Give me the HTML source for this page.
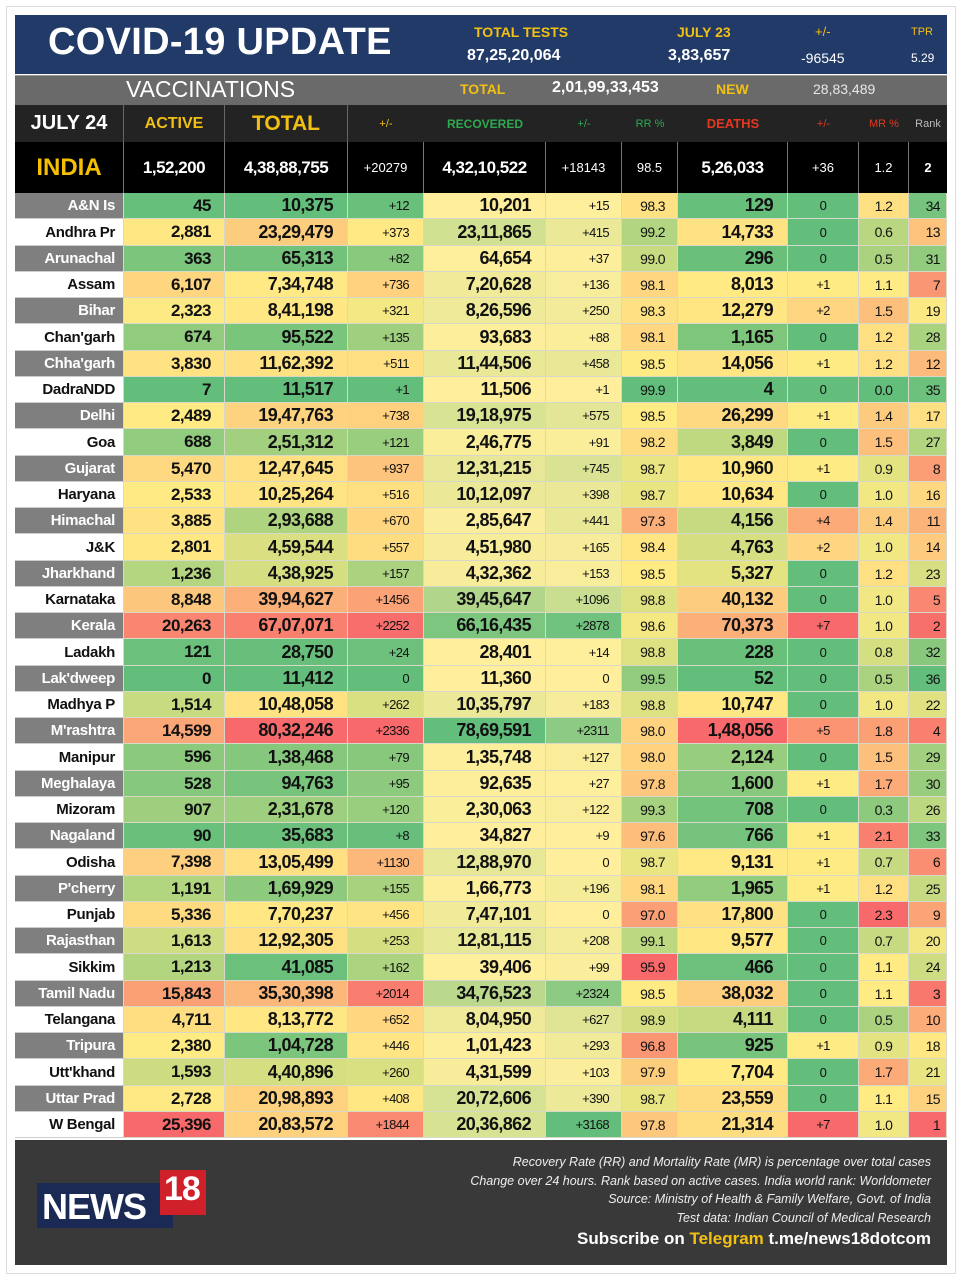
<!DOCTYPE html>
<html><head><meta charset="utf-8">
<style>
*{margin:0;padding:0;box-sizing:border-box}
body{width:962px;height:1280px;background:#fff;font-family:"Liberation Sans",Arial,sans-serif;position:relative;overflow:hidden}
.frame{position:absolute;left:6px;top:6px;width:950px;height:1268px;border:1px solid #ddd}
.a{position:absolute;white-space:nowrap}
.c{position:absolute;display:flex;align-items:center;justify-content:flex-end;border-right:1px solid #d8d8c8;border-bottom:1px solid #d8d8c8;letter-spacing:-0.6px;color:#111}
.b{font-weight:bold;font-size:18px}
.s{font-size:13px;font-weight:normal}
.m{font-size:14px;font-weight:normal}
.h{position:absolute;display:flex;align-items:center;justify-content:center;font-weight:bold;border-right:1px solid #555}
</style></head><body>
<div class="frame"></div>
<div class="a" style="left:15px;top:15px;width:932px;height:59px;background:#213a68"></div>
<div class="a" style="left:48px;top:21px;font-size:38px;font-weight:bold;color:#fff;letter-spacing:0.3px">COVID-19 UPDATE</div>
<div class="a" style="left:474px;top:24px;font-size:14px;font-weight:bold;color:#f2c012">TOTAL TESTS</div>
<div class="a" style="left:467px;top:47px;font-size:16px;font-weight:bold;color:#fff">87,25,20,064</div>
<div class="a" style="left:677px;top:24px;font-size:14px;font-weight:bold;color:#f2c012">JULY 23</div>
<div class="a" style="left:668px;top:47px;font-size:16px;font-weight:bold;color:#fff">3,83,657</div>
<div class="a" style="left:815px;top:24px;font-size:13px;color:#f2c012">+/-</div>
<div class="a" style="left:801px;top:50px;font-size:14px;color:#fff">-96545</div>
<div class="a" style="left:911px;top:26px;font-size:11px;color:#f2c012">TPR</div>
<div class="a" style="left:911px;top:51px;font-size:12px;color:#fff">5.29</div>
<div class="a" style="left:15px;top:75px;width:932px;height:30px;background:#6a6a6a;border-top:1px solid #999"></div>
<div class="a" style="left:126px;top:76px;font-size:23px;color:#fff">VACCINATIONS</div>
<div class="a" style="left:460px;top:81px;font-size:14px;font-weight:bold;color:#f2c012">TOTAL</div>
<div class="a" style="left:552px;top:79px;font-size:16px;font-weight:bold;color:#fff">2,01,99,33,453</div>
<div class="a" style="left:716px;top:81px;font-size:14px;font-weight:bold;color:#f2c012">NEW</div>
<div class="a" style="left:813px;top:81px;font-size:14px;color:#e8e8e8">28,83,489</div>
<div class="a" style="left:15px;top:105px;width:932px;height:37px;background:#232323"></div>
<div id="hdr"></div>
<div id="tbl"></div>
<div class="a" style="left:15px;top:1140px;width:932px;height:125px;background:#3a3939"></div>
<div class="a" style="left:37px;top:1183px;width:136px;height:45px;background:#1b2a55"></div>
<div class="a" style="left:160px;top:1170px;width:46px;height:45px;background:#d0202a"></div>
<div class="a" style="left:42px;top:1186px;font-size:36px;font-weight:bold;color:#fff;letter-spacing:-1px">NEWS</div>
<div class="a" style="left:164px;top:1170px;font-size:34px;font-weight:bold;color:#fff;letter-spacing:-1px">18</div>
<div class="a" style="right:31px;top:1153px;font-size:12.5px;font-style:italic;color:#eee;text-align:right;line-height:18.7px">Recovery Rate (RR) and Mortality Rate (MR) is percentage over total cases<br>Change over 24 hours. Rank based on active cases. India world rank: Worldometer<br>Source: Ministry of Health &amp; Family Welfare, Govt. of India<br>Test data: Indian Council of Medical Research</div>
<div class="a" style="right:31px;top:1229px;font-size:17px;font-weight:bold;color:#fff">Subscribe on <span style="color:#f2c012">Telegram</span> t.me/news18dotcom</div>
<script>
var X=[15,124,225,348,424,546,622,678,788,859,909,947];
var H=document.getElementById('hdr'),T=document.getElementById('tbl');
function el(p,cls,x,y,w,h,txt,st){var d=document.createElement('div');d.className=cls;d.style.cssText='left:'+x+'px;top:'+y+'px;width:'+w+'px;height:'+h+'px;'+(st||'');d.textContent=txt;p.appendChild(d);return d;}
var hd=[["JULY 24","#fff",20],["ACTIVE","#f2c012",16],["TOTAL","#f2c012",21],["+/-","#f2c012",11],["RECOVERED","#2ea94f",12],["+/-","#2ea94f",11],["RR %","#2ea94f",11],["DEATHS","#e5371f",13],["+/-","#e5371f",11],["MR %","#e5371f",11],["Rank","#bbb",11]];
hd.forEach(function(h,i){var bd=(i==0||i==1||i==2)?'border-right:1px solid #666;':'border-right:none;';el(H,'h',X[i],105,X[i+1]-X[i],37,h[0],'color:'+h[1]+';font-size:'+h[2]+'px;'+bd+(i>=3&&i!=4&&i!=7?'font-weight:normal;':''));});
var ind=["INDIA","1,52,200","4,38,88,755","+20279","4,32,10,522","+18143","98.5","5,26,033","+36","1.2","2"];
el(T,'a',15,142,932,51,'','background:#000');
ind.forEach(function(v,i){var d=el(T,'h',X[i],142,X[i+1]-X[i],51,v,'color:#fff;border-right:1px solid #777;');
 if(i==0){d.style.color='#f5c000';d.style.fontSize='24px';}
 else if([1,2,4,7].indexOf(i)>=0){d.style.fontSize='17px';d.style.letterSpacing='-0.5px';}
 else{d.style.fontSize='13px';d.style.fontWeight=(i==10?'bold':'normal');}
 if(i==10)d.style.borderRight='none';});
var R=[
["A&N Is","45","10,375","+12","10,201","+15","98.3","129","0","1.2","34"],
["Andhra Pr","2,881","23,29,479","+373","23,11,865","+415","99.2","14,733","0","0.6","13"],
["Arunachal","363","65,313","+82","64,654","+37","99.0","296","0","0.5","31"],
["Assam","6,107","7,34,748","+736","7,20,628","+136","98.1","8,013","+1","1.1","7"],
["Bihar","2,323","8,41,198","+321","8,26,596","+250","98.3","12,279","+2","1.5","19"],
["Chan'garh","674","95,522","+135","93,683","+88","98.1","1,165","0","1.2","28"],
["Chha'garh","3,830","11,62,392","+511","11,44,506","+458","98.5","14,056","+1","1.2","12"],
["DadraNDD","7","11,517","+1","11,506","+1","99.9","4","0","0.0","35"],
["Delhi","2,489","19,47,763","+738","19,18,975","+575","98.5","26,299","+1","1.4","17"],
["Goa","688","2,51,312","+121","2,46,775","+91","98.2","3,849","0","1.5","27"],
["Gujarat","5,470","12,47,645","+937","12,31,215","+745","98.7","10,960","+1","0.9","8"],
["Haryana","2,533","10,25,264","+516","10,12,097","+398","98.7","10,634","0","1.0","16"],
["Himachal","3,885","2,93,688","+670","2,85,647","+441","97.3","4,156","+4","1.4","11"],
["J&K","2,801","4,59,544","+557","4,51,980","+165","98.4","4,763","+2","1.0","14"],
["Jharkhand","1,236","4,38,925","+157","4,32,362","+153","98.5","5,327","0","1.2","23"],
["Karnataka","8,848","39,94,627","+1456","39,45,647","+1096","98.8","40,132","0","1.0","5"],
["Kerala","20,263","67,07,071","+2252","66,16,435","+2878","98.6","70,373","+7","1.0","2"],
["Ladakh","121","28,750","+24","28,401","+14","98.8","228","0","0.8","32"],
["Lak'dweep","0","11,412","0","11,360","0","99.5","52","0","0.5","36"],
["Madhya P","1,514","10,48,058","+262","10,35,797","+183","98.8","10,747","0","1.0","22"],
["M'rashtra","14,599","80,32,246","+2336","78,69,591","+2311","98.0","1,48,056","+5","1.8","4"],
["Manipur","596","1,38,468","+79","1,35,748","+127","98.0","2,124","0","1.5","29"],
["Meghalaya","528","94,763","+95","92,635","+27","97.8","1,600","+1","1.7","30"],
["Mizoram","907","2,31,678","+120","2,30,063","+122","99.3","708","0","0.3","26"],
["Nagaland","90","35,683","+8","34,827","+9","97.6","766","+1","2.1","33"],
["Odisha","7,398","13,05,499","+1130","12,88,970","0","98.7","9,131","+1","0.7","6"],
["P'cherry","1,191","1,69,929","+155","1,66,773","+196","98.1","1,965","+1","1.2","25"],
["Punjab","5,336","7,70,237","+456","7,47,101","0","97.0","17,800","0","2.3","9"],
["Rajasthan","1,613","12,92,305","+253","12,81,115","+208","99.1","9,577","0","0.7","20"],
["Sikkim","1,213","41,085","+162","39,406","+99","95.9","466","0","1.1","24"],
["Tamil Nadu","15,843","35,30,398","+2014","34,76,523","+2324","98.5","38,032","0","1.1","3"],
["Telangana","4,711","8,13,772","+652","8,04,950","+627","98.9","4,111","0","0.5","10"],
["Tripura","2,380","1,04,728","+446","1,01,423","+293","96.8","925","+1","0.9","18"],
["Utt'khand","1,593","4,40,896","+260","4,31,599","+103","97.9","7,704","0","1.7","21"],
["Uttar Prad","2,728","20,98,893","+408","20,72,606","+390","98.7","23,559","0","1.1","15"],
["W Bengal","25,396","20,83,572","+1844","20,36,862","+3168","97.8","21,314","+7","1.0","1"]];
var G=[99,190,123],Y=[255,235,132],Rd=[248,105,107],LY=[255,239,156];
function mix(a,b,t){t=Math.max(0,Math.min(1,t));return 'rgb('+a.map(function(v,i){return Math.round(v+(b[i]-v)*t)}).join(',')+')';}
function num(s){return parseFloat(s.replace(/[,+]/g,''));}
function col(c){return R.map(function(r){return num(r[c])});}
function pct(a,p){var s=a.slice().sort(function(x,y){return x-y});var k=(s.length-1)*p,f=Math.floor(k);return s[f]+(s[Math.min(f+1,s.length-1)]-s[f])*(k-f);}
function three(c,highGood,mid){var a=col(c),mn=Math.min.apply(0,a),mx=Math.max.apply(0,a),md=mid!==undefined?mid:pct(a,0.5);
 return a.map(function(v){var lo=highGood?Rd:G,hi=highGood?G:Rd;if(v<=md)return mix(lo,Y,md==mn?1:(v-mn)/(md-mn));return mix(Y,hi,(v-md)/(mx-md));});}
function two(c){var a=col(c),mn=Math.min.apply(0,a),mx=Math.max.apply(0,a);return a.map(function(v){return mix(LY,G,(v-mn)/(mx-mn));});}
var C={1:three(1),2:three(2),3:three(3),4:two(4),5:two(5),6:three(6,true),7:three(7),9:three(9),10:three(10,true)};
C[8]=col(8).map(function(v){return v==0?'rgb(99,190,123)':mix(Y,Rd,(v-1)/6);});
var RH=945/36;
R.forEach(function(r,j){var y=193+j*RH,y2=193+(j+1)*RH,h=Math.round(y2)-Math.round(y);y=Math.round(y);
 r.forEach(function(v,i){var w=X[i+1]-X[i],st='',cls='c';
  if(i==0){var gr=j%2==0;st='background:'+(gr?'#7f7f7f':'#fff')+';color:'+(gr?'#fff':'#111')+';font-weight:bold;font-size:15px;padding-right:8px;border-bottom:1px solid #ccc;letter-spacing:-0.3px;';}
  else{st='background:'+C[i][j]+';';
   var pr={1:13,2:14,3:14,4:14,5:12,6:12,7:14,8:28,9:12,10:6}[i];st+='padding-right:'+pr+'px;';
   if(i==1)st+='font-size:17px;font-weight:bold;letter-spacing:-0.5px;';
   cls+=([2,4,7].indexOf(i)>=0?' b':(i==1?'':([3,5,8].indexOf(i)>=0?' s':' m')));
   if(i==8)st+='justify-content:center;padding-right:0;';
   if(i==9)st+='justify-content:center;padding-right:0;';}
  el(T,cls,X[i],y,w,h,v,st);});});
</script>
</body></html>
